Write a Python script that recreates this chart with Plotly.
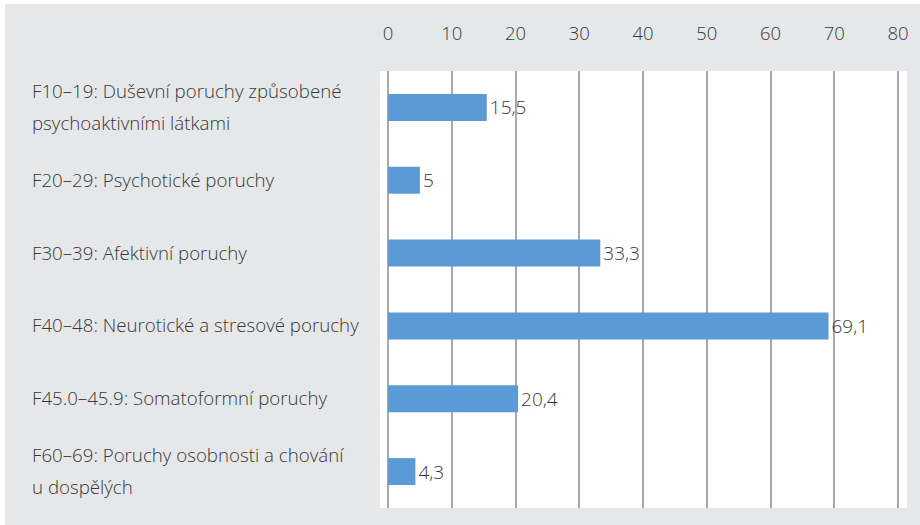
import plotly.graph_objects as go

categories = [
    "F10–19: Duševní poruchy způsobené<br>psychoaktivními látkami",
    "F20–29: Psychotické poruchy",
    "F30–39: Afektivní poruchy",
    "F40–48: Neurotické a stresové poruchy",
    "F45.0–45.9: Somatoformní poruchy",
    "F60–69: Poruchy osobnosti a chování<br>u dospělých",
]
values = [15.5, 5, 33.3, 69.1, 20.4, 4.3]
tick_values = [0, 10, 20, 30, 40, 50, 60, 70, 80]

W, H = 920, 525
L, R, T, B = 380, 13, 71, 17
pw, ph = W - L - R, H - T - B

def px_x(p):
    return (p - L) / pw

def px_y(p):
    return (H - B - p) / ph

text_color = "#383838"
font_family = "Open Sans, Noto Sans, sans-serif"

labels = [f"{v:g}".replace(".", ",") for v in values]

fig = go.Figure(
    go.Bar(
        x=values,
        y=list(range(len(categories))),
        orientation="h",
        marker=dict(color="#5b9bd5", line=dict(width=0)),
        text=labels,
        textposition="outside",
        textfont=dict(size=19, color=text_color, family=font_family, weight=300),
        cliponaxis=False,
        width=0.37,
        hoverinfo="skip",
    )
)

annotations = []
for i, cat in enumerate(categories):
    lines = cat.split("<br>")
    n = len(lines)
    for j, line in enumerate(lines):
        shift = (j - (n - 1) / 2) * 31.5
        annotations.append(
            dict(
                x=px_x(30),
                xref="paper",
                y=i,
                yref="y",
                xanchor="left",
                yanchor="middle",
                yshift=-shift + 1,
                text=line,
                showarrow=False,
                align="left",
                font=dict(size=18.7, color=text_color, family=font_family, weight=300),
            )
        )

shapes = [
    dict(type="rect", xref="paper", yref="paper",
         x0=px_x(5), x1=px_x(W + 5), y0=px_y(H + 5), y1=px_y(4),
         fillcolor="#e6e7e9", line=dict(width=0), layer="below"),
    dict(type="rect", xref="paper", yref="paper",
         x0=0, x1=1, y0=0, y1=1,
         fillcolor="#ffffff", line=dict(width=0), layer="below"),
]

px_per_unit = 63.75 / 10
x_left = -(388 - L) / px_per_unit
x_right = (L + pw - 388) / px_per_unit

fig.update_layout(
    width=W,
    height=H,
    margin=dict(l=L, r=R, t=T, b=B, pad=0),
    paper_bgcolor="#ffffff",
    plot_bgcolor="rgba(0,0,0,0)",
    showlegend=False,
    font=dict(family=font_family, color=text_color, size=18),
    annotations=annotations,
    shapes=shapes,
    xaxis=dict(
        side="top",
        range=[x_left, x_right],
        tickmode="array",
        tickvals=tick_values,
        ticktext=[str(t) for t in tick_values],
        showgrid=True,
        gridcolor="#a9a9a9",
        gridwidth=1.5,
        zeroline=False,
        showline=False,
        ticks="",
        ticklabelstandoff=26,
        tickfont=dict(size=18.5, color=text_color, family=font_family, weight=300),
        fixedrange=True,
    ),
    yaxis=dict(
        range=[len(categories) - 0.5, -0.5],
        showticklabels=False,
        showgrid=False,
        zeroline=False,
        ticks="",
        fixedrange=True,
    ),
)

fig.write_html("out.html")
